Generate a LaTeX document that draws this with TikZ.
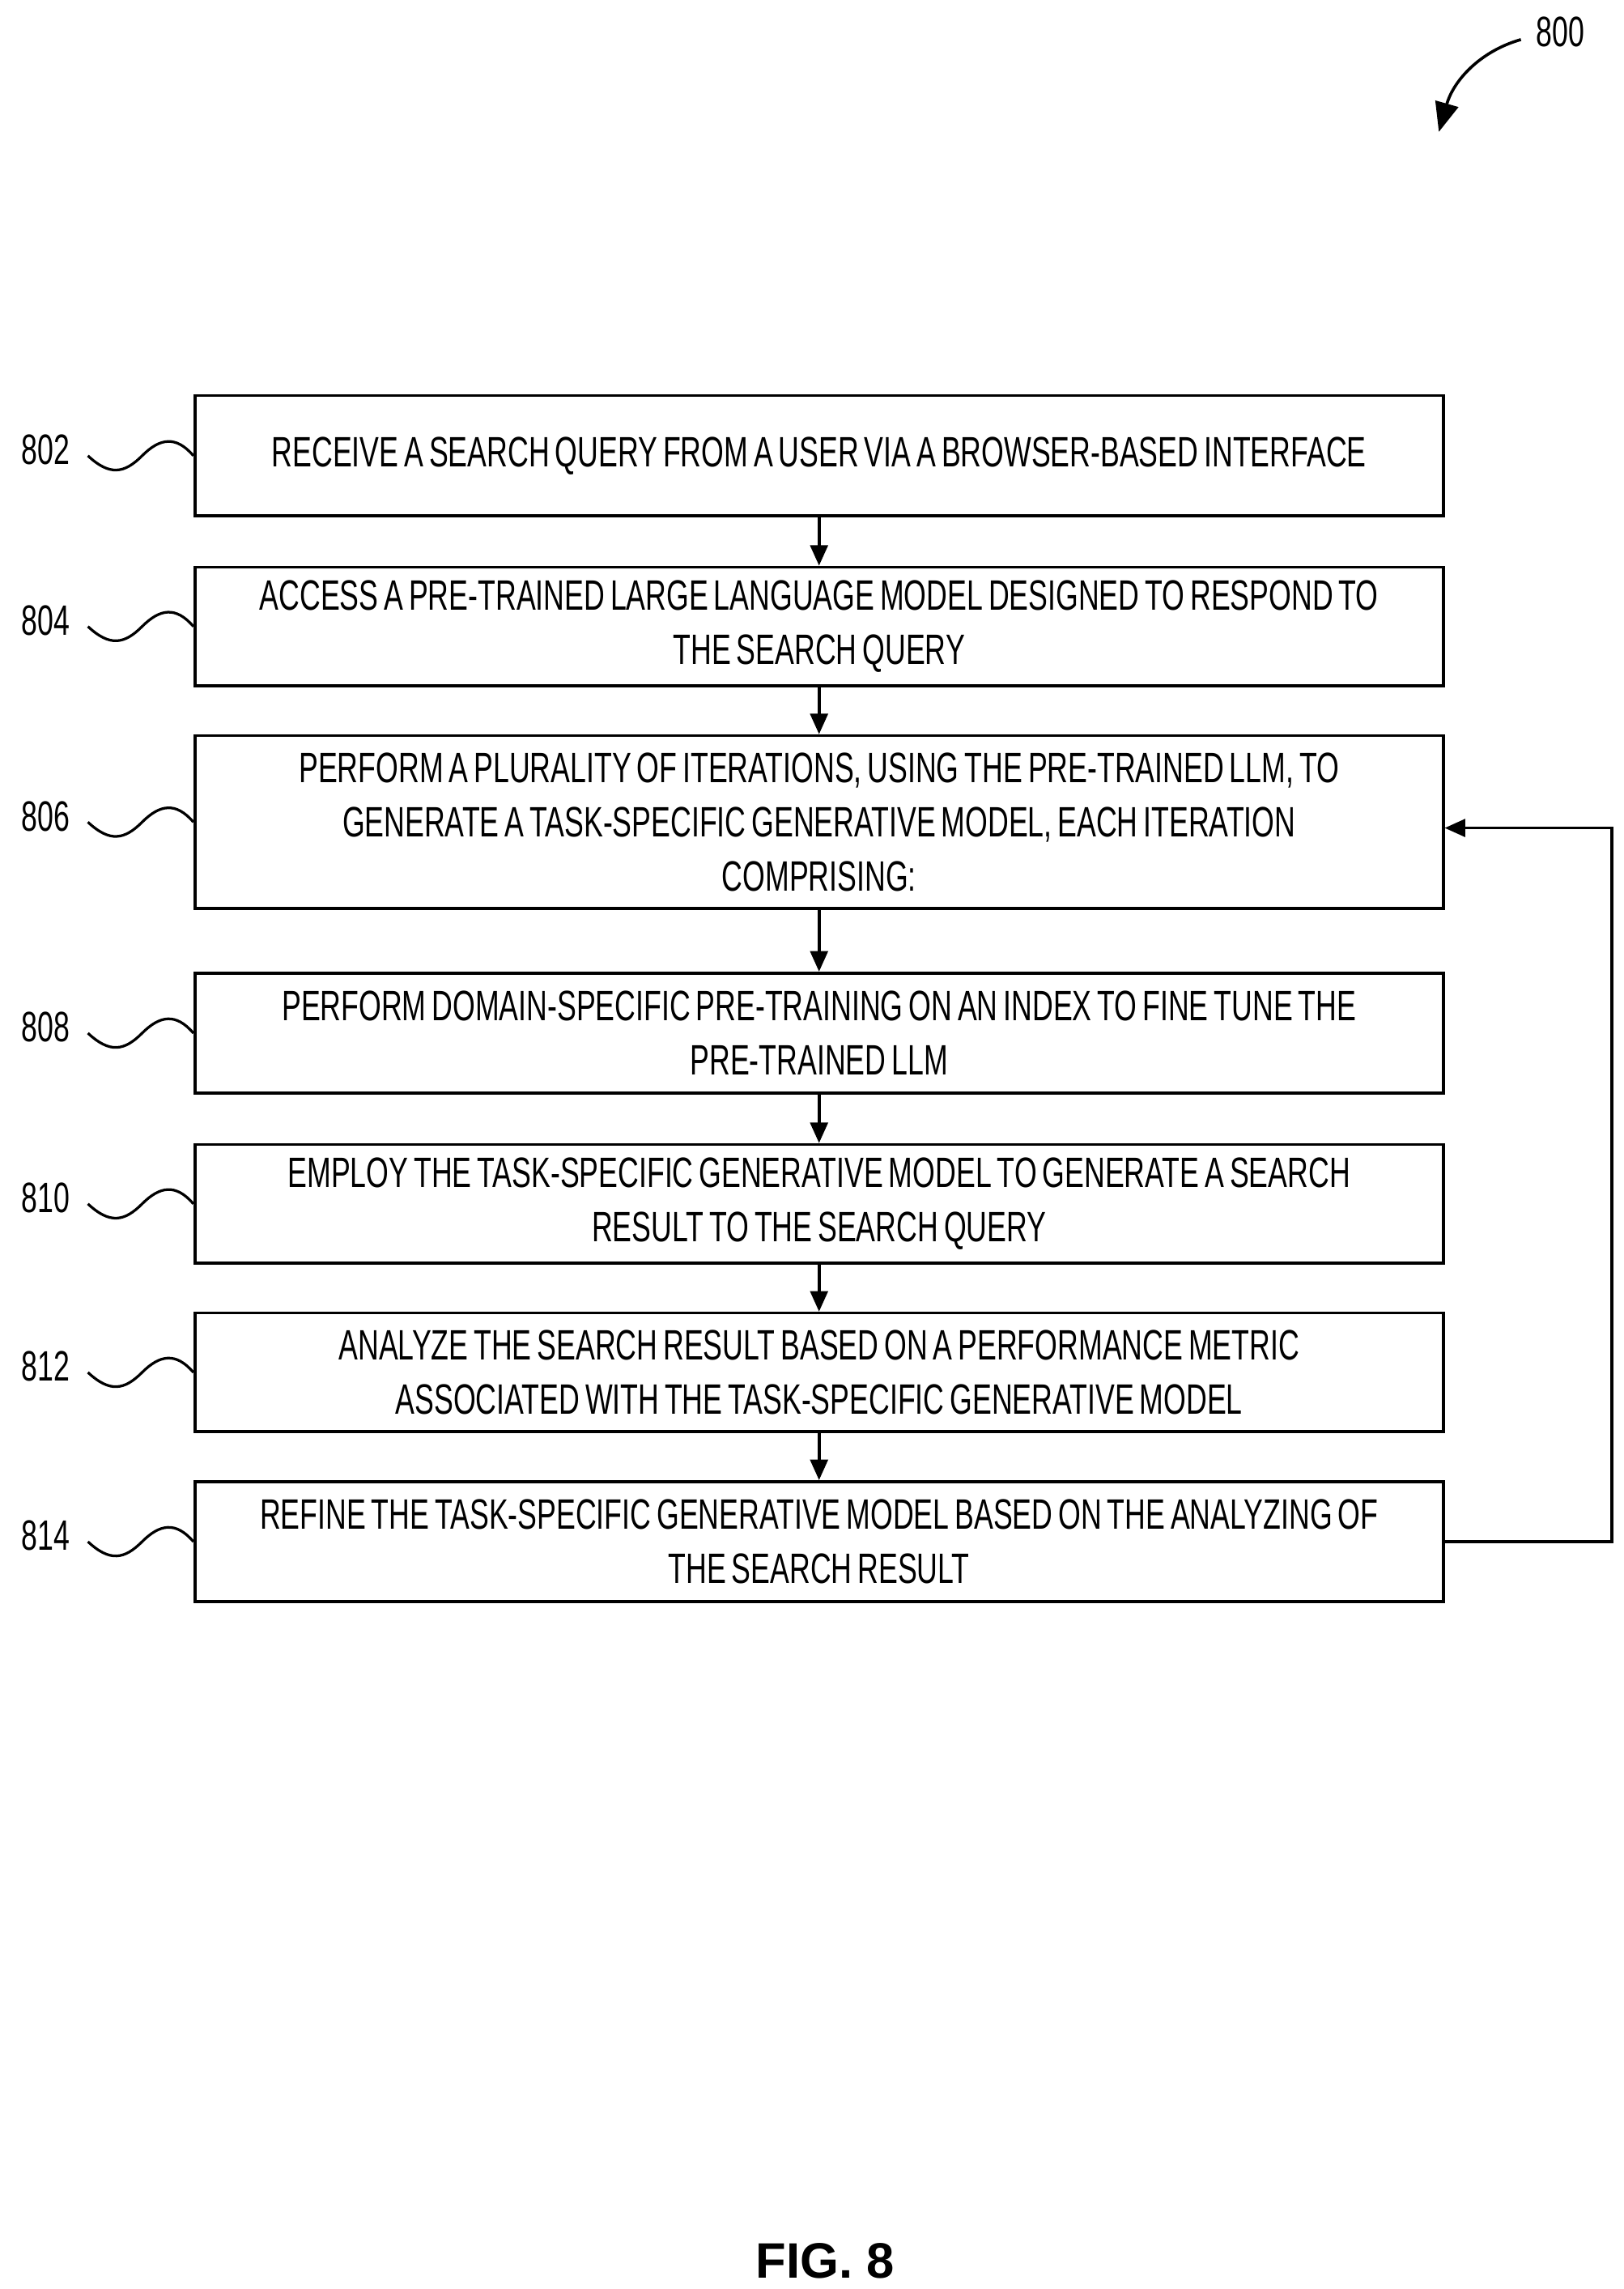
\documentclass[tikz,border=0pt]{standalone}
\usepackage{fontspec}
\setmainfont{Liberation Sans}[FakeStretch=0.68,WordSpace=0.7]
\newfontfamily\figfont{Liberation Sans}
\usetikzlibrary{arrows.meta}
\begin{document}
\begin{tikzpicture}[x=1pt,y=-1pt,
  box/.style={draw,line width=2pt,minimum width=852pt,align=center,inner sep=0pt,font=\fontsize{29}{37}\selectfont},
  lbl/.style={font=\fontsize{29}{34}\selectfont,anchor=center},
  arr/.style={line width=2pt,-{Triangle[length=14pt,width=12pt]}},
  wave/.style={line width=1.8pt}]
\useasboundingbox (0,0) rectangle (1108,1562);
\def\row#1#2#3#4{%
  \node[box,minimum height=#3-#2] (b#1) at (559,{(#2+#3)/2}) {#4};
  \node[lbl] (l#1) at (31,{(#2+#3)/2-4}) {#1};
  \coordinate (w#1) at (60,{(#2+#3)/2});
  \draw[wave] (w#1) .. controls (75,{(#2+#3)/2+14}) and (85,{(#2+#3)/2+12}) .. (97,{(#2+#3)/2}) .. controls (109,{(#2+#3)/2-12}) and (120,{(#2+#3)/2-14}) .. (b#1.west);}
\row{802}{270}{352}{RECEIVE A SEARCH QUERY FROM A USER VIA A BROWSER-BASED INTERFACE}
\row{804}{387}{468}{ACCESS A PRE-TRAINED LARGE LANGUAGE MODEL DESIGNED TO RESPOND TO\\THE SEARCH QUERY}
\row{806}{502}{620}{PERFORM A PLURALITY OF ITERATIONS, USING THE PRE-TRAINED LLM, TO\\GENERATE A TASK-SPECIFIC GENERATIVE MODEL, EACH ITERATION\\COMPRISING:}
\row{808}{664}{746}{PERFORM DOMAIN-SPECIFIC PRE-TRAINING ON AN INDEX TO FINE TUNE THE\\PRE-TRAINED LLM}
\row{810}{781}{862}{EMPLOY THE TASK-SPECIFIC GENERATIVE MODEL TO GENERATE A SEARCH\\RESULT TO THE SEARCH QUERY}
\row{812}{896}{977}{ANALYZE THE SEARCH RESULT BASED ON A PERFORMANCE METRIC\\ASSOCIATED WITH THE TASK-SPECIFIC GENERATIVE MODEL}
\row{814}{1011}{1093}{REFINE THE TASK-SPECIFIC GENERATIVE MODEL BASED ON THE ANALYZING OF\\THE SEARCH RESULT}
\draw[arr] (b802) -- (b804);
\draw[arr] (b804) -- (b806);
\draw[arr] (b806) -- (b808);
\draw[arr] (b808) -- (b810);
\draw[arr] (b810) -- (b812);
\draw[arr] (b812) -- (b814);
\draw[arr] (b814.east) -- (1100,1052) |- ([yshift=-4pt]b806.east);
\node[lbl] (l800) at (1065,22) {800};
\coordinate (a800) at (982,90);
\draw[line width=2pt,-{Triangle[length=20pt,width=16pt]}] (1038,27) .. controls (1010,35) and (992,55) .. (a800);
\node[font=\figfont\bfseries\fontsize{34}{40}\selectfont] (fig) at (563,1543) {FIG. 8};
\end{tikzpicture}
\end{document}
